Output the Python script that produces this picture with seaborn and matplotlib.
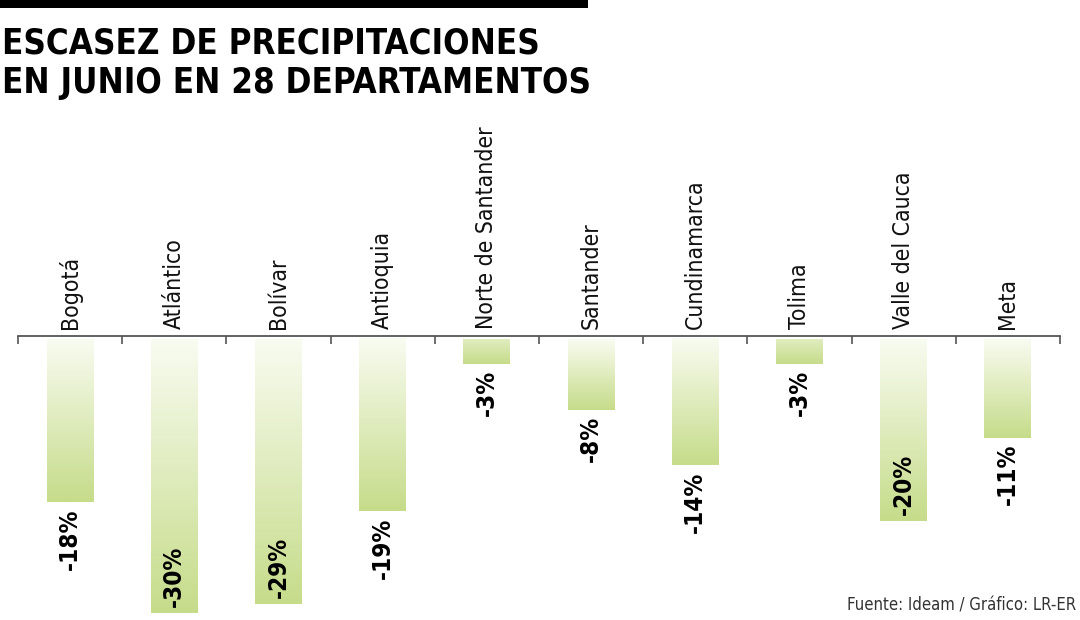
import numpy as np
import pandas as pd
import matplotlib
matplotlib.use('Agg')
import matplotlib.pyplot as plt
import matplotlib.transforms as mtransforms
from matplotlib.colors import LinearSegmentedColormap
import seaborn as sns

departamentos = ['Bogotá', 'Atlántico', 'Bolívar', 'Antioquia', 'Norte de Santander',
                 'Santander', 'Cundinamarca', 'Tolima', 'Valle del Cauca', 'Meta']
variacion = [-18, -30, -29, -19, -3, -8, -14, -3, -20, -11]

title = 'ESCASEZ DE PRECIPITACIONES\nEN JUNIO EN 28 DEPARTAMENTOS'
fuente = 'Fuente: Ideam / Gráfico: LR-ER'

sns.set_style('white')
plt.rcParams['font.family'] = ['DejaVu Sans']

df = pd.DataFrame({'dep': departamentos, 'val': variacion})

W, H = 1080, 620
fig = plt.figure(figsize=(W / 100, H / 100), dpi=100)
# axes from the zero line (y=336px) to the bottom of the figure
ax = fig.add_axes([18 / W, 0, (1060 - 18) / W, 1 - 336 / H])

sns.barplot(data=df, x='dep', y='val', ax=ax, width=0.45, color='#c8de8f')
ax.set_xlim(-0.5, len(departamentos) - 0.5)
ax.set_ylim(-30 * (620 - 336) / (613 - 336), 0)

green = LinearSegmentedColormap.from_list('g', ['#fbfdf6', '#c6dc8a'])
grad = np.linspace(0, 1, 256).reshape(-1, 1)
for p, v in zip(ax.patches, variacion):
    x0, w = p.get_x(), p.get_width()
    p.set_facecolor('none')
    p.set_edgecolor('none')
    start = float(np.clip(1 - abs(v) / 6.0, 0.05, 0.6))
    g = start + (1 - start) * grad
    im = ax.imshow(g, cmap=green, vmin=0, vmax=1, aspect='auto',
                   extent=(x0, x0 + w, v, -0.35), origin='upper', zorder=2)
    im.set_clip_path(p)
ax.set_xlim(-0.5, len(departamentos) - 0.5)

for s in ['left', 'right', 'bottom']:
    ax.spines[s].set_visible(False)
ax.spines['top'].set_color('#555555')
ax.spines['top'].set_linewidth(1.3)
ax.set_xticks(np.arange(-0.5, len(departamentos), 1.0))
ax.set_xticklabels([])
ax.set_yticks([])
ax.tick_params(axis='x', top=True, bottom=False, direction='in', length=6,
               width=1.2, color='#555555')
ax.set_xlabel('')
ax.set_ylabel('')

lab_font = dict(family='DejaVu Sans', stretch='condensed', size=16.5, color='#111111')
up = mtransforms.offset_copy(ax.transData, fig=fig, x=0, y=7, units='dots')
for i, name in enumerate(departamentos):
    ax.text(i, 0, name, rotation=90, ha='center', va='bottom', transform=up,
            clip_on=False, **lab_font)

val_font = dict(family='DejaVu Sans', stretch='condensed', weight='bold', size=17.5,
                color='#000000')
for i, v in enumerate(variacion):
    if v <= -20:
        tr = mtransforms.offset_copy(ax.transData, fig=fig, x=0, y=6, units='dots')
        ax.text(i, v, f'{v}%', rotation=90, ha='center', va='bottom', transform=tr,
                zorder=3, **val_font)
    else:
        tr = mtransforms.offset_copy(ax.transData, fig=fig, x=0, y=-6, units='dots')
        ax.text(i, v, f'{v}%', rotation=90, ha='center', va='top', transform=tr,
                zorder=3, **val_font)

fig.add_artist(plt.Rectangle((0, 1 - 8 / H), 588 / W, 8 / H, transform=fig.transFigure,
                             color='black', lw=0))
fig.text(2 / W, 1 - 27 / H, title, ha='left', va='top', fontsize=25, weight='bold',
         stretch='condensed', linespacing=1.2, color='black')
fig.text(1076 / W, 1 - 605 / H, fuente, ha='right', va='center', fontsize=12,
         stretch='condensed', color='#333333')

fig.savefig('out.png', dpi=100)
